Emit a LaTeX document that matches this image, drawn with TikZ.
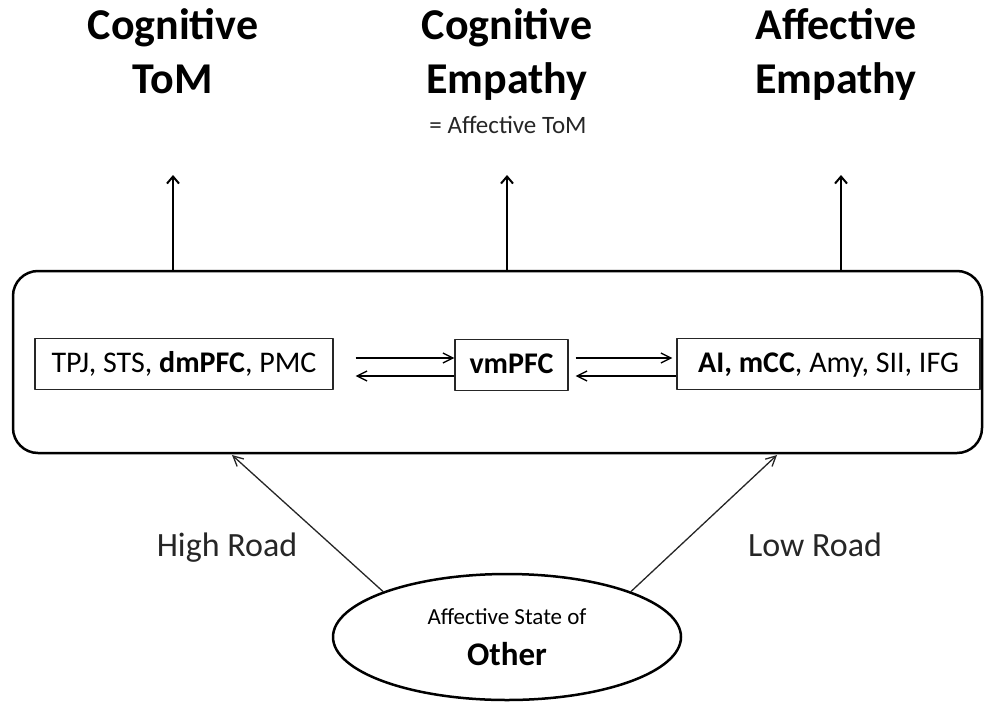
\documentclass[tikz,border=0pt]{standalone}
\usepackage{fontspec}
\setmainfont{Carlito}
\usetikzlibrary{arrows.meta,shapes.geometric,positioning}

\newcommand{\headfont}{\fontsize{44}{54}\selectfont\bfseries}

\begin{document}
\begin{tikzpicture}[x=1pt, y=-1pt, font=\fontsize{30}{36}\selectfont, line join=round, >={Straight Barb[length=10pt,width=10pt]},
	region/.style={draw=black!85, line width=1.3pt, minimum height=51pt, inner sep=0pt, text height=22pt, text depth=6pt},
	uparrow/.style={->, line width=2pt, >={Straight Barb[length=7pt,width=12pt]}},
	road/.style={->, line width=1.3pt, black!85}]
	\useasboundingbox (0,0) rectangle (984,701);
	% ==========================================
	% headings
	\node[align=center, anchor=base, font=\headfont] (tom) at (173,93) {Cognitive\\ToM};
	\node[align=center, anchor=base, font=\headfont] (cogemp) at (507,93) {Cognitive\\Empathy};
	\node[anchor=base, font=\fontsize{25}{30}\selectfont, black!85] (afftom) at (508,133) {= Affective ToM};
	\node[align=center, anchor=base, font=\headfont] (affemp) at (836,93) {Affective\\Empathy};
	% ==========================================
	% network box
	\node[draw, line width=2.5pt, rounded corners=25pt, minimum width=969pt, minimum height=182pt] (brain) at (497.5,362) {};
	\node[region, minimum width=298pt] (cog) at (184,364) {TPJ, STS, \textbf{dmPFC}, PMC};
	\node[region, minimum width=113pt] (vm) at (511.5,365) {\textbf{vmPFC}};
	\node[region, minimum width=303pt] (aff) at (828.5,364) {\textbf{AI, mCC}, Amy, SII, IFG};
	\draw[->, line width=1.3pt] ([xshift=22pt,yshift=6pt]cog.east) -- ([yshift=7pt]vm.west);
	\draw[->, line width=1.3pt] ([yshift=-11pt]vm.west) -- ([xshift=22pt,yshift=-12pt]cog.east);
	\draw[->, line width=1.3pt] ([xshift=7pt,yshift=7pt]vm.east) -- ([xshift=-4pt,yshift=6pt]aff.west);
	\draw[->, line width=1.3pt] ([yshift=-12pt]aff.west) -- ([xshift=7pt,yshift=-11pt]vm.east);
	% ==========================================
	% upward arrows
	\coordinate (tomtip) at (173,175);
	\coordinate (cogtip) at (507,175);
	\coordinate (afftip) at (841,175);
	\draw[uparrow] (brain.north -| tomtip) -- (tomtip);
	\draw[uparrow] (brain.north -| cogtip) -- (cogtip);
	\draw[uparrow] (brain.north -| afftip) -- (afftip);
	% ==========================================
	% other
	\node[draw, ellipse, line width=2.5pt, minimum width=348pt, minimum height=126pt, inner sep=0pt, align=center] (other) at (507,637)
		{{\fontsize{23}{28}\selectfont Affective State of}\\[5pt]{\fontsize{33}{34}\selectfont\bfseries Other}};
	\coordinate (hightip) at (232,455);
	\coordinate (lowtip) at (777,455);
	\draw[road] (other.north west) -- (hightip);
	\draw[road] (other.north east) -- (lowtip);
	\node[anchor=base, black!85, font=\fontsize{34}{40}\selectfont] (high) at (227,556) {High Road};
	\node[anchor=base, black!85, font=\fontsize{34}{40}\selectfont] (low) at (815,556) {Low Road};
\end{tikzpicture}
\end{document}
